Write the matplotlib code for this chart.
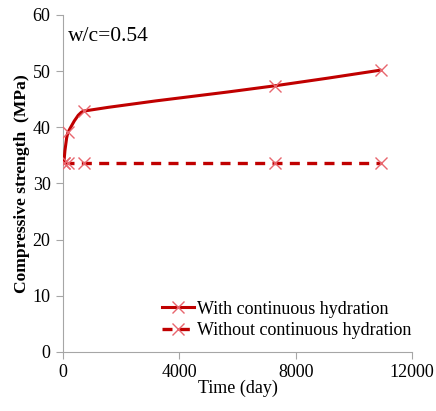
import numpy as np
import matplotlib
matplotlib.use("Agg")
import matplotlib.pyplot as plt
from matplotlib.path import Path
from matplotlib.patches import PathPatch
from matplotlib.lines import Line2D

# ---------------------------------------------------------------------------
# Data
# ---------------------------------------------------------------------------
days_with = [28, 182, 730, 7300, 10950]
strength_with = [33.6, 39.2, 42.9, 47.4, 50.2]

days_without = [28, 182, 730, 7300, 10950]
strength_without = [33.6, 33.6, 33.6, 33.6, 33.6]

x_ticks = [0, 4000, 8000, 12000]
y_ticks = [0, 10, 20, 30, 40, 50, 60]

LINE_RED = "#C00000"
MARK_RED = "#E8666E"
GRAY = "#A6A6A6"

plt.rcParams["font.family"] = ["Liberation Serif", "DejaVu Serif"]


def smooth_path(xs, ys):
    """Smoothed line through the points (cubic Bezier segments, no overshoot)."""
    x = np.asarray(xs, float)
    y = np.asarray(ys, float)
    h = np.diff(x)
    d = np.diff(y) / h
    n = len(x)
    m = np.zeros(n)
    for i in range(1, n - 1):
        if d[i - 1] * d[i] > 0:
            # length-weighted geometric mean of the neighbouring slopes
            w = h[i - 1] / (h[i - 1] + h[i])
            m[i] = np.sign(d[i]) * abs(d[i - 1]) ** w * abs(d[i]) ** (1 - w)
    m[0] = 2 * d[0] - m[1] if abs(2 * d[0] - m[1]) > abs(d[0]) else d[0]
    m[-1] = d[-1]
    verts = [(x[0], y[0])]
    codes = [Path.MOVETO]
    for i in range(n - 1):
        verts += [(x[i] + h[i] / 3, y[i] + m[i] * h[i] / 3),
                  (x[i + 1] - h[i] / 3, y[i + 1] - m[i + 1] * h[i] / 3),
                  (x[i + 1], y[i + 1])]
        codes += [Path.CURVE4] * 3
    return Path(verts, codes)


fig = plt.figure(figsize=(4.36, 4.11), dpi=100)
ax = fig.add_axes([0.1445, 0.1436, 0.8005, 0.82])

# with continuous hydration (smoothed)
ax.add_patch(PathPatch(smooth_path(days_with, strength_with), facecolor="none",
                       edgecolor=LINE_RED, linewidth=2.2, zorder=3))
ax.plot(days_with, strength_with, linestyle="none", marker="x", markersize=8,
        markeredgewidth=1.0, color=MARK_RED, zorder=4)

# without continuous hydration
ax.plot(days_without, strength_without, linestyle=(0, (3, 2.2)), linewidth=2.4,
        color=LINE_RED, zorder=3)
ax.plot(days_without, strength_without, linestyle="none", marker="x", markersize=8,
        markeredgewidth=1.0, color=MARK_RED, zorder=4)

ax.set_xlim(0, 12000)
ax.set_ylim(0, 60)
ax.set_xticks(x_ticks)
ax.set_yticks(y_ticks)
ax.tick_params(labelsize=13, color=GRAY, length=5, pad=4)
for s in ["top", "right"]:
    ax.spines[s].set_visible(False)
for s in ["left", "bottom"]:
    ax.spines[s].set_color(GRAY)

ax.set_xlabel("Time (day)", fontsize=13, labelpad=-1)
ax.set_ylabel("Compressive strength  (MPa)", fontsize=12.6, fontweight="bold", labelpad=2)
ax.text(0.015, 0.965, "w/c=0.54", transform=ax.transAxes, fontsize=15.5, va="top", ha="left")

handles = [
    Line2D([], [], color=LINE_RED, linewidth=2.2, marker="x", markersize=8,
           markeredgecolor=MARK_RED, markeredgewidth=1.0),
    Line2D([], [], color=LINE_RED, linewidth=2.4, linestyle=(0, (3, 2.2)), marker="x",
           markersize=8, markeredgecolor=MARK_RED, markeredgewidth=1.0),
]
ax.legend(handles, ["With continuous hydration", "Without continuous hydration"],
          loc="lower right", bbox_to_anchor=(1.045, -0.01), frameon=False, fontsize=13,
          handlelength=1.8, handletextpad=0.15, labelspacing=0.25)

fig.savefig("out.png", dpi=100)
